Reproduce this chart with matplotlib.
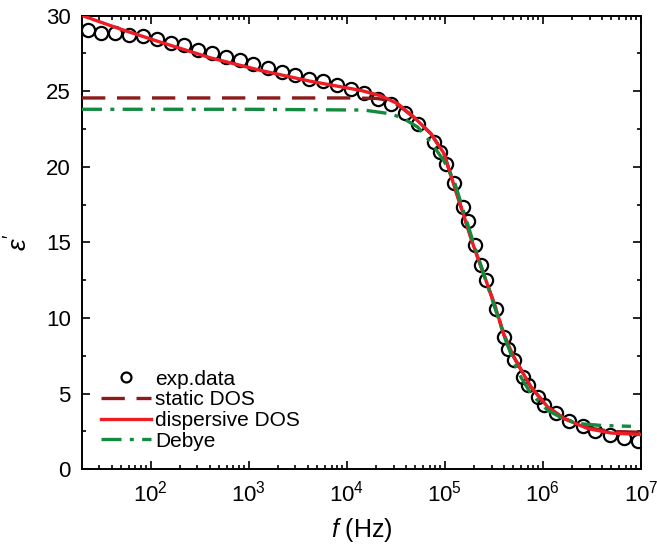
import numpy as np
import matplotlib
matplotlib.use('Agg')
from matplotlib import pyplot as plt
from matplotlib.ticker import LogLocator, MultipleLocator, NullFormatter

plt.rcParams['font.family'] = ['Liberation Sans', 'DejaVu Sans']
plt.rcParams['mathtext.fontset'] = 'custom'
plt.rcParams['mathtext.it'] = 'Liberation Sans:italic'
plt.rcParams['mathtext.rm'] = 'Liberation Sans'

# experimental points (Hz, eps')
exp_f = [23.3, 30.9, 43.0, 59.7, 82.8, 115, 160, 217, 302, 419, 582, 809,
         1099, 1563, 2172, 2946, 4093, 5690, 7906, 10990, 14900, 20700,
         28100, 39100, 53000, 77200, 88900, 102000, 124000, 153000, 172000,
         202000, 233000, 262000, 331000, 400000, 440000, 506000, 625000,
         703000, 889000, 1.02e6, 1.36e6, 1.84e6, 2.56e6, 3.39e6, 4.83e6,
         6.71e6, 9.31e6]
exp_eps = [29.05, 28.86, 28.86, 28.68, 28.62, 28.46, 28.18, 28.02, 27.69,
           27.54, 27.25, 27.03, 26.77, 26.53, 26.26, 26.04, 25.82, 25.64,
           25.38, 25.16, 24.87, 24.5, 24.17, 23.55, 22.8, 21.63, 20.97,
           20.16, 18.95, 17.34, 16.41, 14.8, 13.48, 12.49, 10.62, 8.74,
           7.97, 7.2, 6.1, 5.55, 4.75, 4.23, 3.7, 3.2, 2.85, 2.55, 2.25,
           2.05, 1.88]

# fitted curves
disp_f = [20, 49.4, 126, 409, 1325, 4292, 13900, 22200, 33100, 48300,
          71900, 97700, 121000, 198000, 256000, 331000, 400000, 506000,
          755000, 1.12e6, 1.64e6, 2.88e6, 4.94e6, 1e7]
disp_eps = [30.0, 29.1, 28.24, 27.2, 26.37, 25.65, 25.05, 24.7, 24.17,
            23.28, 22.2, 20.9, 19.0, 14.7, 12.7, 10.64, 8.9, 7.42, 5.44,
            4.12, 3.35, 2.69, 2.4, 2.3]

static_f = [20, 1000, 10000, 20000, 27000, 33100, 48300, 71900, 97700,
            121000, 198000, 256000, 331000, 400000, 506000, 755000, 1.12e6,
            1.64e6, 2.88e6, 4.94e6, 1e7]
static_eps = [24.55, 24.55, 24.55, 24.52, 24.4, 24.1, 23.28, 22.2, 20.9,
              19.0, 14.7, 12.7, 10.64, 8.9, 7.42, 5.44, 4.12, 3.37, 2.75,
              2.5, 2.45]

debye_f = [20, 1000, 15000, 28100, 38200, 53000, 71900, 97700, 124000,
           202000, 331000, 419000, 556000, 755000, 1.12e6, 1.72e6, 2.44e6,
           3.91e6, 7.9e6]
debye_eps = [23.8, 23.8, 23.75, 23.5, 23.18, 22.62, 21.63, 20.4, 19.1,
             14.7, 10.5, 8.5, 6.43, 5.0, 3.9, 3.25, 3.01, 2.9, 2.84]

fig = plt.figure(figsize=(6.57, 5.54), dpi=100)
ax = fig.add_axes([0.1248, 0.1529, 0.8508, 0.8191])

ax.plot(exp_f, exp_eps, 'o', mfc='none', mec='black', ms=9.5, mew=1.6,
        label='exp.data', zorder=2)
ax.plot(static_f, static_eps, color='#8b1a1a', lw=2.4, dashes=(7, 3.5),
        label='static DOS', zorder=3)
ax.plot(disp_f, disp_eps, color='#ee1c25', lw=2.4,
        label='dispersive DOS', zorder=4)
ax.plot(debye_f, debye_eps, color='#138a3e', lw=2.4,
        dashes=(6, 2.5, 1.2, 2.5), label='Debye', zorder=5)

ax.set_xscale('log')
ax.set_xlim(20, 1e7)
ax.set_ylim(0, 30)
ax.xaxis.set_major_locator(LogLocator(base=10, numticks=10))
ax.xaxis.set_minor_locator(LogLocator(base=10, subs=np.arange(2, 10), numticks=20))
ax.xaxis.set_minor_formatter(NullFormatter())
ax.yaxis.set_major_locator(MultipleLocator(5))
ax.yaxis.set_minor_locator(MultipleLocator(2.5))

ax.tick_params(which='both', direction='in', top=True, right=True,
               labelsize=16, width=1.2)
ax.tick_params(which='major', length=6, pad=8)
ax.tick_params(which='minor', length=3)
for s in ax.spines.values():
    s.set_linewidth(1.4)

ax.set_xlabel(r'$f$ (Hz)', fontsize=18, labelpad=7)
ax.set_ylabel(r"$\varepsilon'$", fontsize=19, labelpad=10)

ax.legend(loc='lower left', bbox_to_anchor=(0.0, 0.0), frameon=False,
          fontsize=15, handlelength=2.4, handletextpad=0.2,
          labelspacing=0.08, markerscale=0.75)

fig.savefig('out.png', dpi=100)
